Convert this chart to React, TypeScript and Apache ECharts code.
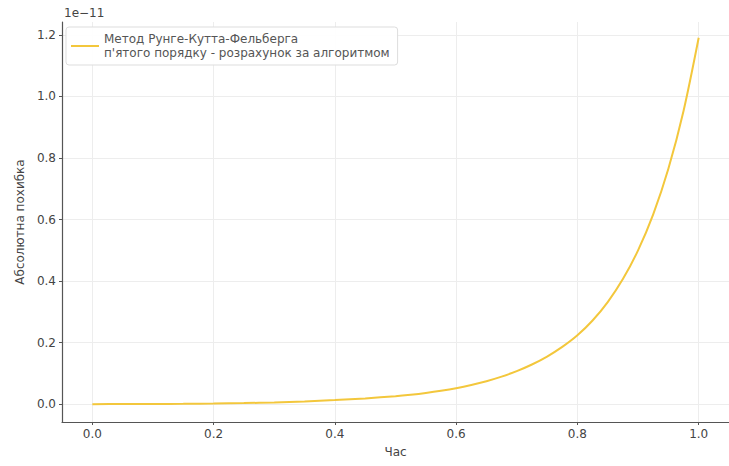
import React, { useEffect, useRef } from "react";
import * as echarts from "echarts";

// Time samples (s) and absolute error of the RKF method, in units of 1e-11
const times = [
  0, 0.05, 0.1, 0.15, 0.2, 0.25, 0.3, 0.35, 0.4, 0.45, 0.5,
  0.525, 0.55, 0.575, 0.6, 0.625, 0.65, 0.675, 0.7, 0.725, 0.75, 0.775,
  0.8, 0.825, 0.85, 0.875, 0.9, 0.925, 0.95, 0.975, 1.0,
];
const errors = [
  0, 0.0002, 0.0006, 0.0012, 0.002, 0.0035, 0.0055, 0.0085, 0.0132, 0.0186, 0.026,
  0.0308, 0.0366, 0.0436, 0.052, 0.0624, 0.0747, 0.0895, 0.1073, 0.1288, 0.1547, 0.186,
  0.2238, 0.2719, 0.3317, 0.4064, 0.4998, 0.617, 0.765, 0.953, 1.191,
];

const xTicks = [0, 0.2, 0.4, 0.6, 0.8, 1.0];
const yTicks = [0, 0.2, 0.4, 0.6, 0.8, 1.0, 1.2];

const seriesName = "Метод Рунге-Кутта-Фельберга\nп'ятого порядку - розрахунок за алгоритмом";
const font = "DejaVu Sans";
const lineColor = "#f3c73c";

export default function App() {
  const ref = useRef<HTMLDivElement>(null);

  useEffect(() => {
    if (!ref.current) return;
    const chart = echarts.init(ref.current, undefined, { renderer: "svg" });
    chart.setOption({
      animation: false,
      backgroundColor: "#ffffff",
      textStyle: { fontFamily: font },
      grid: { left: 62, right: -7, top: 22, bottom: 44, containLabel: false },
      legend: {
        left: 66,
        top: 27,
        orient: "vertical",
        padding: [5, 8, 5, 5],
        backgroundColor: "rgba(255,255,255,0.9)",
        borderColor: "#dddddd",
        borderWidth: 1,
        borderRadius: 3,
        itemWidth: 28,
        itemHeight: 10,
        textStyle: { fontFamily: font, fontSize: 12, color: "#555", lineHeight: 14 },
        data: [{ name: seriesName, icon: "path://M0,4 L28,4 L28,6 L0,6 Z" }],
      },
      xAxis: {
        type: "value",
        min: -0.05,
        max: 1.05,
        name: "Час",
        nameLocation: "middle",
        nameGap: 24,
        nameTextStyle: { fontFamily: font, fontSize: 12, color: "#444" },
        axisLine: { show: true, onZero: false, lineStyle: { color: "#555", width: 1.2 } },
        axisTick: { show: true, length: 3, customValues: xTicks, lineStyle: { color: "#555" } },
        axisLabel: {
          customValues: xTicks,
          formatter: (v: number) => v.toFixed(1),
          fontFamily: font,
          fontSize: 12,
          color: "#444",
          margin: 6,
        },
        splitLine: { show: true, lineStyle: { color: "#ededed", width: 1 } },
      },
      yAxis: {
        type: "value",
        min: -0.058,
        max: 1.242,
        name: "Абсолютна похибка",
        nameLocation: "middle",
        nameGap: 36,
        nameTextStyle: { fontFamily: font, fontSize: 12, color: "#444" },
        axisLine: { show: true, onZero: false, lineStyle: { color: "#555", width: 1.2 } },
        axisTick: { show: true, length: 3, customValues: yTicks, lineStyle: { color: "#555" } },
        axisLabel: {
          customValues: yTicks,
          formatter: (v: number) => v.toFixed(1),
          fontFamily: font,
          fontSize: 12,
          color: "#444",
          margin: 6,
        },
        splitLine: { show: true, lineStyle: { color: "#ededed", width: 1 } },
      },
      graphic: [
        {
          type: "text",
          left: 64,
          top: 7,
          style: { text: "1e−11", fontFamily: font, fontSize: 12, fill: "#444" },
        },
      ],
      series: [
        {
          name: seriesName,
          type: "line",
          data: times.map((t, i) => [t, errors[i]]),
          smooth: 0.3,
          showSymbol: false,
          lineStyle: { color: lineColor, width: 2 },
          itemStyle: { color: lineColor },
        },
      ],
    });
    return () => chart.dispose();
  }, []);

  return (
    <div
      ref={ref}
      style={{ position: "fixed", left: 0, top: 0, width: 729, height: 466 }}
    />
  );
}
